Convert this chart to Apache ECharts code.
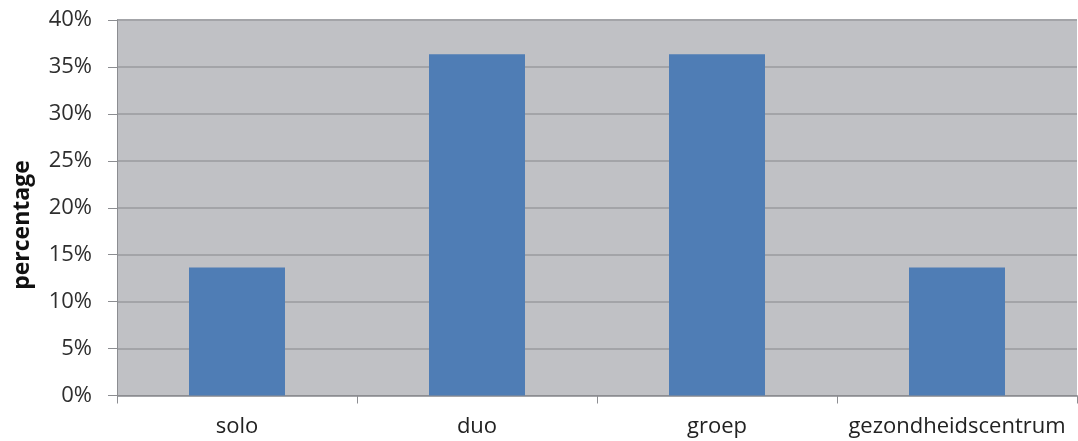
<!DOCTYPE html>
<html>
<head>
<meta charset="utf-8">
<script src="https://cdn.jsdelivr.net/npm/echarts@6/dist/echarts.min.js"></script>
<style>
  html, body { margin: 0; padding: 0; background: #ffffff; }
  #chart { width: 1078px; height: 441px; }
</style>
</head>
<body>
<div id="chart"></div>
<script>
// Share of practices per practice type
const categories = ['solo', 'duo', 'groep', 'gezondheidscentrum'];
const percentages = [13.64, 36.36, 36.36, 13.64];
const yTicks = [0, 5, 10, 15, 20, 25, 30, 35, 40];
const yAxisTitle = 'percentage';

const chart = echarts.init(document.getElementById('chart'), null, { renderer: 'canvas' });

chart.setOption({
  animation: false,
  grid: {
    left: 117, right: 1, top: 20, bottom: 45.5,
    outerBoundsMode: 'none',
    containLabel: false,
    show: true,
    backgroundColor: '#c0c1c5',
    borderWidth: 0
  },
  xAxis: {
    type: 'category',
    data: categories,
    axisLine: { show: true, lineStyle: { color: '#8c8d91', width: 1 } },
    axisTick: { show: true, interval: 0, alignWithLabel: false, length: 8, lineStyle: { color: '#8c8d91' } },
    axisLabel: {
      interval: 0,
      hideOverlap: false,
      color: '#222222', fontFamily: 'Open Sans', fontSize: 22, margin: 20
    }
  },
  yAxis: {
    type: 'value',
    min: yTicks[0],
    max: yTicks[yTicks.length - 1],
    interval: 5,
    axisLine: { show: true, lineStyle: { color: '#8c8d91', width: 1 } },
    axisTick: { show: true, length: 9, lineStyle: { color: '#8c8d91' } },
    axisLabel: {
      color: '#2e2e2e', fontFamily: 'Open Sans', fontSize: 22, margin: 25,
      formatter: v => v + '%'
    },
    splitLine: { show: true, lineStyle: { color: '#a3a4a8', width: 2 } }
  },
  graphic: [{
    type: 'text',
    x: 22,
    y: 225,
    rotation: Math.PI / 2,
    style: {
      text: yAxisTitle,
      fill: '#111111',
      font: 'bold 23px "Open Sans"',
      align: 'center',
      verticalAlign: 'middle'
    }
  }],
  series: [{
    type: 'bar',
    data: percentages,
    barWidth: '40%',
    itemStyle: { color: '#4f7db5' }
  }]
});
</script>
</body>
</html>
